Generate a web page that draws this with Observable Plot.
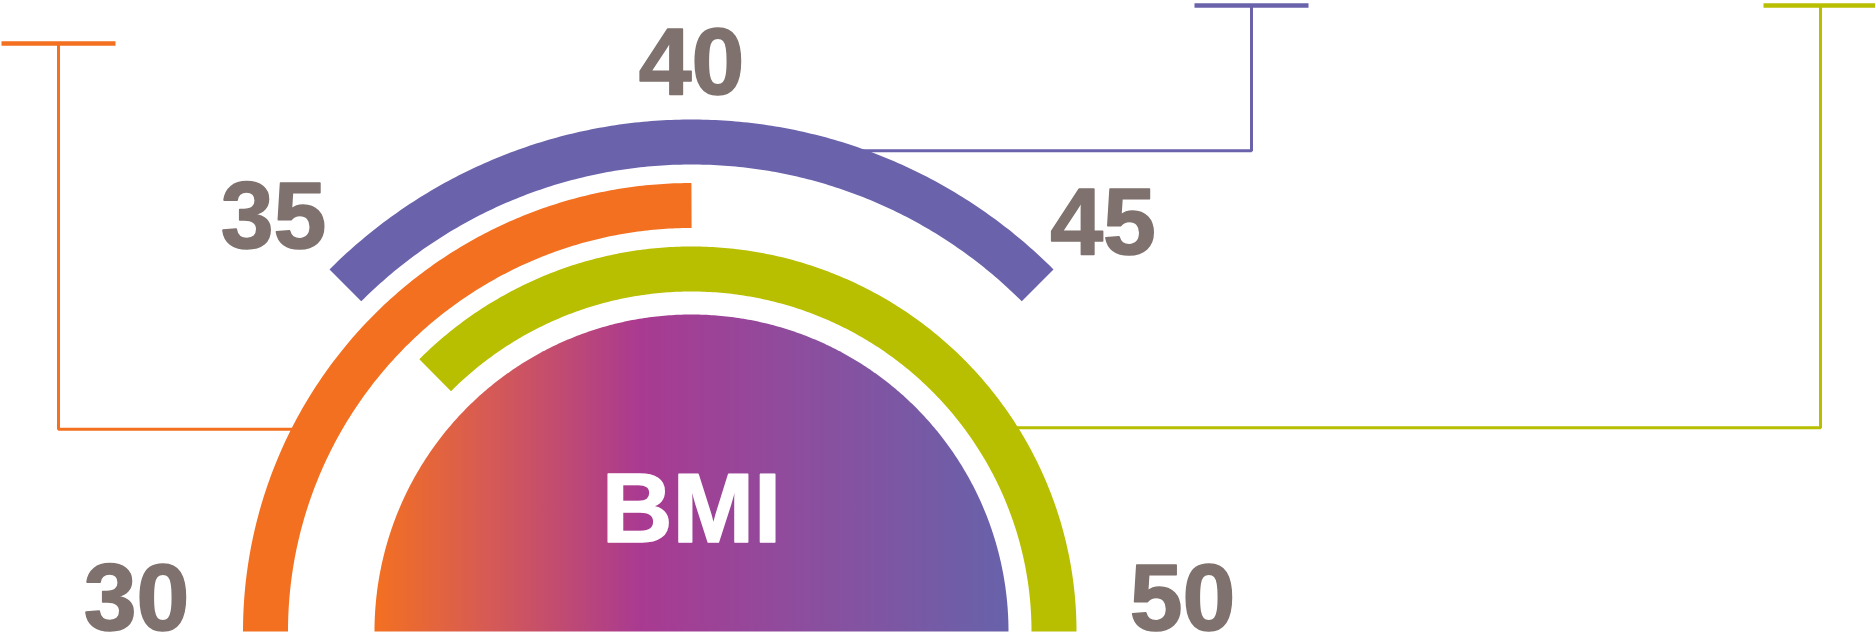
<!DOCTYPE html>
<html><head><meta charset="utf-8">
<script src="https://cdn.jsdelivr.net/npm/d3@7"></script>
<script src="https://cdn.jsdelivr.net/npm/@observablehq/plot@0.6"></script>
<style>html,body{margin:0;padding:0;background:#fff;overflow:hidden}#chart svg{display:block}</style>
</head><body><div id="chart"></div>
<script>
// ---- data ----
const arcNames = ["orange", "purple", "green"];
const arcStart = [30, 35, 35];
const arcEnd = [40, 45, 50];
const tickValues = [30, 35, 40, 45, 50];
const tickLabels = ["30", "35", "40", "45", "50"];
const centerLabel = "BMI";
const calloutAnchor = [33.15, 41.2, 46.2]; // BMI value at which each callout leaves its arc

// ---- layout & style ----
const W = 1875, H = 635;
const CX = 691, CY = 631;
const arcColor = {orange: "#f37021", purple: "#6a63ab", green: "#b8be00"};
const arcRadius = {orange: [403, 449], purple: [467, 512], green: [340, 385]};
const discRadius = 317;
const labelRadius = [555, 591, 572, 582, 491];
const labelMaxY = 595;
const callout = {orange: {x: 58, top: 43}, purple: {x: 1251, top: 5}, green: {x: 1820, top: 5}};
const barHalf = 57;
const font = "'Liberation Sans', Arial, Helvetica, sans-serif";

const angle = d3.scaleLinear().domain([30, 50]).range([Math.PI, 0]);
const polar = (v, r) => [CX + r * Math.cos(angle(v)), CY - r * Math.sin(angle(v))];
const sample = (a, b) => { const s = d3.range(a, b, 0.05); s.push(b); return s; };

const arcPoints = arcNames.flatMap((name, i) => {
  const mid = (arcRadius[name][0] + arcRadius[name][1]) / 2;
  return sample(arcStart[i], arcEnd[i]).map(v => { const [x, y] = polar(v, mid); return {name, x, y}; });
});
const discPoints = sample(30, 50).map(v => { const [x, y] = polar(v, discRadius); return {x, y}; });

const calloutPaths = arcNames.flatMap((name, i) => {
  const mid = (arcRadius[name][0] + arcRadius[name][1]) / 2;
  const [ax, ay] = polar(calloutAnchor[i], mid);
  const c = callout[name];
  return [{name, x: ax, y: ay}, {name, x: c.x, y: ay}, {name, x: c.x, y: c.top}];
});
const bars = arcNames.map(name => ({name, x1: callout[name].x - barHalf, x2: callout[name].x + barHalf, y: callout[name].top}));

const labels = tickValues.map((v, i) => {
  const [x, y] = polar(v, labelRadius[i]);
  return {x, y: Math.min(y, labelMaxY), text: tickLabels[i]};
});

const svg = Plot.plot({
  width: W, height: H, margin: 0,
  x: {domain: [0, W], range: [0, W], axis: null},
  y: {domain: [0, H], range: [0, H], axis: null},
  color: {type: "identity"},
  style: {background: "#fff", overflow: "visible"},
  marks: [
    Plot.line(calloutPaths, {x: "x", y: "y", z: "name", stroke: d => arcColor[d.name], strokeWidth: 3, strokeLinecap: "butt", strokeLinejoin: "miter"}),
    Plot.link(bars, {x1: "x1", x2: "x2", y1: "y", y2: "y", stroke: d => arcColor[d.name], strokeWidth: 4.5}),
    Plot.line(arcPoints, {x: "x", y: "y", z: "name", stroke: d => arcColor[d.name], strokeWidth: 45, strokeLinecap: "butt", strokeLinejoin: "round"}),
    Plot.line(discPoints, {x: "x", y: "y", fill: "url(#bmiGrad)", stroke: "none"}),
    Plot.text(labels, {x: "x", y: "y", text: "text", fontSize: 95, fontWeight: "bold", fontFamily: font, fill: "#7f726e", stroke: "#7f726e", strokeWidth: 1.6, dy: 4}),
    Plot.text([centerLabel], {x: () => CX, y: () => CY - 125, text: d => d, fontSize: 98, fontWeight: "bold", fontFamily: font, fill: "#ffffff", stroke: "#ffffff", strokeWidth: 1.6, dy: 4})
  ]
});

const grad = d3.select(svg).insert("defs", ":first-child")
  .append("linearGradient").attr("id", "bmiGrad")
  .attr("x1", "0").attr("x2", "1").attr("y1", "0").attr("y2", "0");
[[0, "#f37021"], [0.18, "#d65a55"], [0.42, "#a93a91"], [0.7, "#8a4f9f"], [1, "#6762aa"]]
  .forEach(([o, c]) => grad.append("stop").attr("offset", o).attr("stop-color", c));

document.getElementById("chart").appendChild(svg);
</script>
</body></html>
